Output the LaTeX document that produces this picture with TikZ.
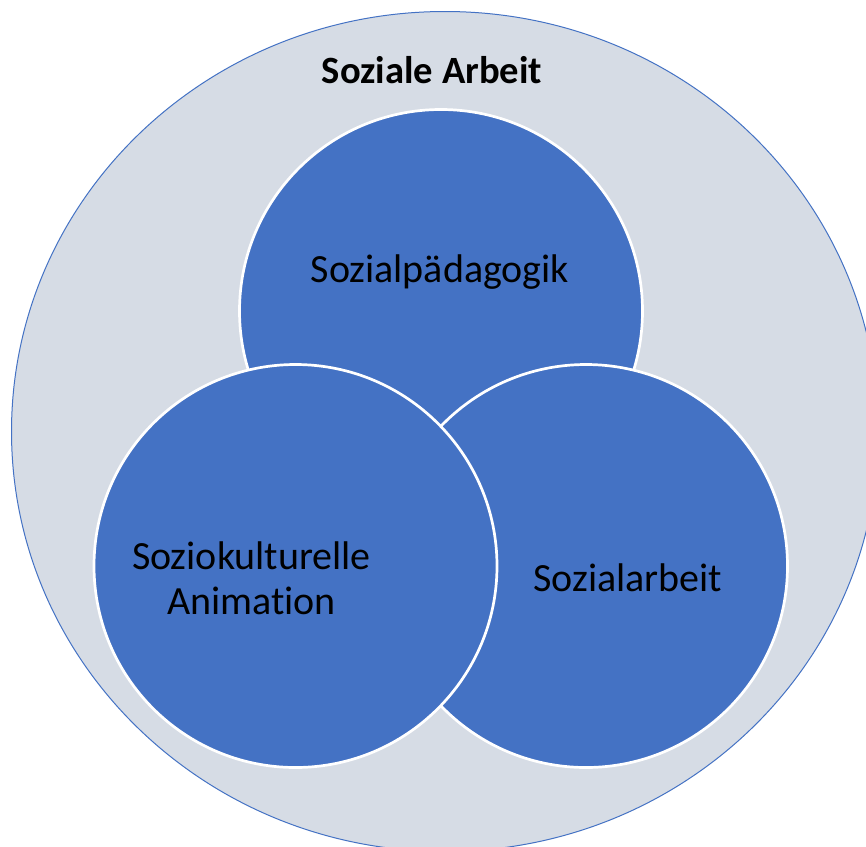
\documentclass[tikz,border=0pt]{standalone}
\usepackage{fontspec}
\setmainfont{Carlito}[Ligatures=NoCommon]
\usetikzlibrary{shapes.geometric}
\definecolor{accentblue}{HTML}{4472C4}
\definecolor{outerfill}{HTML}{D6DCE5}
\begin{document}
\begin{tikzpicture}[x=1pt,y=-1pt,
  inner/.style={circle, fill=accentblue, draw=white, line width=2.7pt, minimum size=403pt, inner sep=0pt},
  lbl/.style={font=\fontsize{40}{45}\selectfont, text=black, align=center, inner sep=0pt},
  title/.style={font=\fontsize{38.6}{44}\selectfont\bfseries, text=black, inner sep=0pt}]
\useasboundingbox (0,0) rectangle (866,846);
\begin{scope}
\clip (0,0) rectangle (866,846);
\node[ellipse, fill=outerfill, draw=accentblue, line width=1pt, minimum width=867pt, minimum height=840pt, inner sep=0pt] (outer) at (445,431.5) {};
\end{scope}
\node[inner] (top) at (441,311) {};
\node[inner] (right) at (586,566) {};
\node[inner] (left) at (295.5,566) {};
\node[title] (ttl) at (432,70) {Soziale Arbeit};
\node[lbl] (ltop) at (440,272) {Sozialpädagogik};
\node[lbl] (lleft) at (251.5,578) {Soziokulturelle\\Animation};
\node[lbl] (lright) at (628,578) {Sozialarbeit};
\end{tikzpicture}
\end{document}
